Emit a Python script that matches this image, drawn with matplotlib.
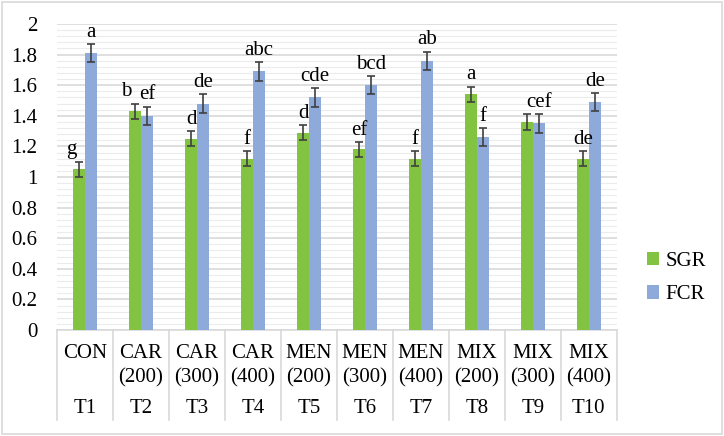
import numpy as np
import matplotlib.pyplot as plt
from matplotlib.patches import Rectangle
from matplotlib.transforms import blended_transform_factory

plt.rcParams['font.family'] = ['Liberation Serif', 'DejaVu Serif']

groups = ['CON', 'CAR', 'CAR', 'CAR', 'MEN', 'MEN', 'MEN', 'MIX', 'MIX', 'MIX']
doses = ['', '(200)', '(300)', '(400)', '(200)', '(300)', '(400)', '(200)', '(300)', '(400)']
trts = ['T1', 'T2', 'T3', 'T4', 'T5', 'T6', 'T7', 'T8', 'T9', 'T10']

sgr = [1.05, 1.43, 1.25, 1.12, 1.29, 1.18, 1.12, 1.54, 1.36, 1.12]
sgr_err = [0.05, 0.05, 0.05, 0.05, 0.05, 0.05, 0.05, 0.05, 0.05, 0.05]
fcr = [1.81, 1.40, 1.48, 1.69, 1.52, 1.60, 1.76, 1.26, 1.35, 1.49]
fcr_err = [0.06, 0.06, 0.06, 0.06, 0.06, 0.06, 0.06, 0.06, 0.06, 0.06]
sgr_let = ['g', 'b', 'd', 'f', 'd', 'ef', 'f', 'a', '', 'de']
fcr_let = ['a', 'ef', 'de', 'abc', 'cde', 'bcd', 'ab', 'f', 'cef', 'de']

green = '#82c341'
blue = '#8eaadb'
grid = '#d9d9d9'

fig = plt.figure(figsize=(7.24, 4.36), dpi=100)
fig.patches.append(Rectangle((0.003, 0.004), 0.994, 0.992, transform=fig.transFigure,
                             fill=False, edgecolor=grid, lw=1.2))
ax = fig.add_axes([0.0787, 0.243, 0.7733, 0.702])

x = np.arange(len(trts))
w = 0.21
ax.bar(x - w / 2, sgr, w, color=green, label='SGR', zorder=3)
ax.bar(x + w / 2, fcr, w, color=blue, label='FCR', zorder=3)
ek = dict(fmt='none', ecolor='#404040', elinewidth=1.2, capsize=3, capthick=1.2, zorder=4)
ax.errorbar(x - w / 2, sgr, yerr=sgr_err, **ek)
ax.errorbar(x + w / 2, fcr, yerr=fcr_err, **ek)

# labels pushed aside where Excel moved them
nudge = {0: -0.14, 1: -0.16}
for i in range(len(trts)):
    ax.text(x[i] - w / 2 + nudge.get(i, 0), sgr[i] + sgr_err[i] + 0.015, sgr_let[i],
            ha='center', va='bottom', fontsize=15)
    ax.text(x[i] + w / 2, fcr[i] + fcr_err[i] + 0.015, fcr_let[i],
            ha='center', va='bottom', fontsize=15)

ax.set_xlim(-0.5, 9.5)
ax.set_ylim(0, 2)
ax.set_yticks(np.arange(0, 2.01, 0.2))
ax.set_yticklabels(['0', '0.2', '0.4', '0.6', '0.8', '1', '1.2', '1.4', '1.6', '1.8', '2'])
ax.set_yticks(np.arange(0, 2.01, 0.04), minor=True)
ax.tick_params(axis='y', which='both', length=0, labelsize=15, pad=14)
ax.tick_params(axis='x', which='both', length=0, labelbottom=False)
ax.grid(axis='y', which='major', color=grid, lw=1.2, zorder=0)
ax.grid(axis='y', which='minor', color='#ececec', lw=0.8, zorder=0)
for s in ['top', 'right', 'left']:
    ax.spines[s].set_visible(False)
ax.spines['bottom'].set_color(grid)
ax.spines['bottom'].set_linewidth(1.2)

tr = blended_transform_factory(ax.transData, ax.transAxes)
for b in np.arange(-0.5, 10, 1.0):
    ax.plot([b, b], [0, -0.294], transform=tr, color=grid, lw=1.2, clip_on=False)
for i in range(len(trts)):
    ax.text(x[i], -0.078, groups[i], transform=tr, ha='center', va='center', fontsize=15)
    ax.text(x[i], -0.157, doses[i], transform=tr, ha='center', va='center', fontsize=15)
    ax.text(x[i], -0.255, trts[i], transform=tr, ha='center', va='center', fontsize=15)

ax.legend(loc='center left', bbox_to_anchor=(1.02, 0.17), frameon=False, fontsize=15,
          handlelength=0.6, handleheight=0.6, handletextpad=0.3, labelspacing=0.7)

fig.savefig('out.png', dpi=100)
